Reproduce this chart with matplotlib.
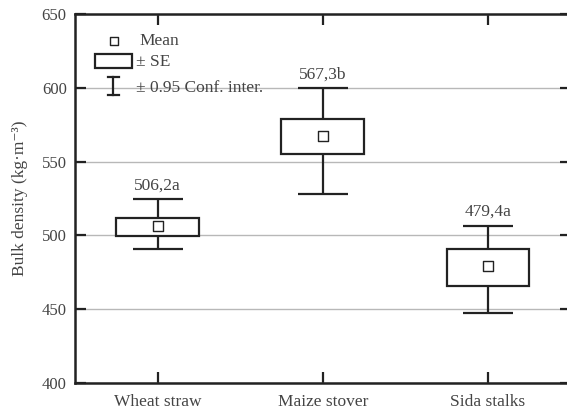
import matplotlib
matplotlib.use("Agg")
import matplotlib.pyplot as plt
import numpy as np
from matplotlib.patches import Rectangle

categories = ["Wheat straw", "Maize stover", "Sida stalks"]
means = [506.2, 567.3, 479.4]
se_low = [499.4, 555.0, 466.0]
se_high = [511.6, 579.0, 491.0]
ci_low = [490.6, 528.0, 447.6]
ci_high = [524.5, 600.0, 506.6]
labels = ["506,2a", "567,3b", "479,4a"]
yticks = [400, 450, 500, 550, 600, 650]

LINE = "#222222"
TEXT = "#444444"


def main() -> None:
    plt.rcParams["font.family"] = ["Liberation Serif", "DejaVu Serif"]
    plt.rcParams["font.size"] = 12.5

    fig = plt.figure(figsize=(5.67, 4.12), dpi=100)
    ax = fig.add_axes([75 / 567, 29 / 412, 495.5 / 567, 369 / 412])

    x = np.arange(len(categories))
    m = np.array(means)
    lo = np.array(ci_low)
    hi = np.array(ci_high)
    sl = np.array(se_low)
    sh = np.array(se_high)

    ax.yaxis.grid(True, color="#b8b8b8", linewidth=1.0, zorder=0)
    ax.set_axisbelow(True)

    ax.errorbar(x, m, yerr=[m - lo, hi - m], fmt="none", ecolor=LINE,
                elinewidth=1.6, capsize=18, capthick=1.6, zorder=2)
    ax.bar(x, sh - sl, bottom=sl, width=0.5, color="white",
           edgecolor=LINE, linewidth=1.6, zorder=3)
    ax.scatter(x, m, marker="s", s=45, facecolor="white",
               edgecolor=LINE, linewidth=1.0, zorder=4)

    for xi, top, lab in zip(x, hi, labels):
        ax.annotate(lab, (xi, top), xytext=(0, 4), textcoords="offset points",
                    ha="center", va="bottom", color=TEXT, fontsize=12.5)

    ax.set_xlim(-0.5, 2.5)
    ax.set_ylim(400, 650)
    ax.set_yticks(yticks)
    ax.set_xticks(x)
    ax.set_xticklabels(categories)
    ax.set_ylabel("Bulk density (kg\u00b7m\u207b\u00b3)", color=TEXT,
                  fontsize=12.5, labelpad=10)

    ax.tick_params(axis="both", direction="in", length=8, width=1.6,
                   colors=LINE, labelcolor=TEXT, labelsize=12.5,
                   top=True, right=True, pad=8)
    ax.tick_params(axis="y", labelsize=12, pad=6)
    for side in ["left", "bottom", "top", "right"]:
        ax.spines[side].set_linewidth(1.8)
        ax.spines[side].set_color(LINE)
    # the figure is cut just before the right frame line
    ax.spines["right"].set_visible(False)

    # legend drawn by hand, no background (grid line shows through)
    tr = ax.transAxes
    ax.scatter([0.079], [0.926], marker="s", s=30, facecolor="white",
               edgecolor=LINE, linewidth=1.0, transform=tr, zorder=5,
               clip_on=False)
    ax.text(0.131, 0.926, "Mean", transform=tr, va="center", ha="left",
            color=TEXT)
    ax.add_patch(Rectangle((0.040, 0.854), 0.075, 0.038, transform=tr,
                           facecolor="white", edgecolor=LINE, linewidth=1.6,
                           zorder=5))
    ax.text(0.123, 0.870, "\u00b1 SE", transform=tr, va="center", ha="left",
            color=TEXT)
    ax.plot([0.077, 0.077], [0.780, 0.829], color=LINE, lw=1.6, transform=tr,
            zorder=5)
    ax.plot([0.066, 0.088], [0.829, 0.829], color=LINE, lw=1.6, transform=tr,
            zorder=5)
    ax.plot([0.066, 0.088], [0.780, 0.780], color=LINE, lw=1.6, transform=tr,
            zorder=5)
    ax.text(0.123, 0.800, "\u00b1 0.95 Conf. inter.", transform=tr,
            va="center", ha="left", color=TEXT)

    fig.savefig("out.png", dpi=100)


if __name__ == "__main__":
    main()
